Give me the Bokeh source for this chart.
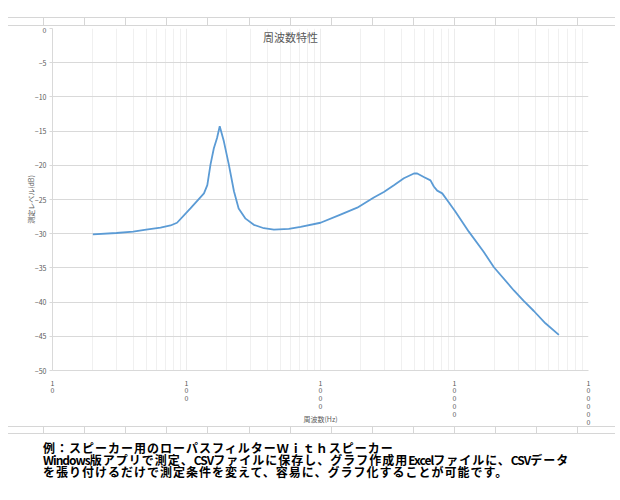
import re

from bokeh.embed import file_html
from bokeh.resources import INLINE
from bokeh.plotting import figure
from bokeh.layouts import column
from bokeh.models import Div, Label, FixedTicker

# 周波数特性 (measured)
freq_hz = [20, 30, 40, 50, 64, 76, 85, 107, 135, 143, 151, 160, 169, 177,
           190, 207, 226, 245, 276, 318, 378, 449, 580, 710, 1000, 1410,
           1880, 2500, 2970, 3530, 4190, 4980, 5270, 5900, 6620, 7010, 7430,
           8100, 8830, 10170, 12790, 16440, 19680, 27740, 32700, 39100,
           47700, 60100]
level_db = [-30.1, -29.9, -29.7, -29.4, -29.1, -28.8, -28.4, -26.3, -24.1,
            -22.9, -19.9, -17.5, -16.0, -14.3, -16.5, -19.9, -23.8, -26.3,
            -27.8, -28.7, -29.2, -29.4, -29.3, -29.0, -28.4, -27.2, -26.2,
            -24.7, -23.9, -22.9, -21.9, -21.2, -21.2, -21.7, -22.2, -23.1,
            -23.7, -24.1, -25.1, -26.8, -29.7, -32.6, -34.9, -38.3, -39.8,
            -41.3, -43.1, -44.8]

x_ticks = [10, 100, 1000, 10000, 100000]
x_tick_labels = {t: "\n".join(str(t)) for t in x_ticks}
y_ticks = [0, -5, -10, -15, -20, -25, -30, -35, -40, -45, -50]

title_text = "周波数特性"
x_label = "周波数(Hz)"
y_label = "測定レベル(dB)"
caption_lines = [
    "例：スピーカー用のローパスフィルターＷｉｔｈスピーカー",
    "Windows版アプリで測定、CSVファイルに保存し、グラフ作成用Excelファイルに、CSVデータ",
    "を張り付けるだけで測定条件を変えて、容易に、グラフ化することが可能です。",
]

JP = "Noto Sans CJK JP"
GRID = "#d9d9d9"
TXT = "#595959"
CELL = "#d6d6d6"


def cell_styles(y1, y2):
    # faint spreadsheet cell borders, painted as the div's own background
    solid = "linear-gradient(%s, %s)" % (CELL, CELL)
    stripes = ("repeating-linear-gradient(to right, transparent 0px, transparent 40.1px, "
               "%s 40.1px, %s 41.1px)" % (CELL, CELL))
    return {
        "background-image": ", ".join([solid, solid, stripes]),
        "background-size": "607px 1px, 607px 1px, 612px %dpx" % (y2 - y1),
        "background-position": "8px %dpx, 8px %dpx, 2.6px %dpx" % (y1, y2, y1),
        "background-repeat": "no-repeat",
    }


top = Div(text="", width=620, height=26, margin=0, styles=cell_styles(17, 25))

p = figure(width=608, height=400, x_axis_type="log",
           x_range=(10, 100000), y_range=(-50, 0),
           output_backend="svg", toolbar_location=None,
           min_border_left=52, min_border_right=20,
           min_border_top=2, min_border_bottom=56)
p.outline_line_color = None
p.background_fill_color = "white"
p.border_fill_color = "white"

p.xaxis.ticker = FixedTicker(ticks=x_ticks,
                             minor_ticks=[m * t for t in x_ticks[:-1] for m in range(2, 10)])
p.xaxis.major_label_overrides = x_tick_labels
p.yaxis.ticker = FixedTicker(ticks=y_ticks)

for ax in (p.xaxis, p.yaxis):
    ax.axis_line_color = GRID
    ax.major_tick_line_color = GRID
    ax.minor_tick_line_color = None
    ax.major_label_text_font = JP
    ax.major_label_text_font_size = "7px"
    ax.major_label_text_color = TXT
p.xaxis.major_tick_out = 0
p.xaxis.major_tick_in = 0
p.xaxis.major_label_standoff = 3
p.xaxis.major_label_text_line_height = 0.78
p.yaxis.major_tick_out = 3
p.yaxis.major_tick_in = 0
p.yaxis.major_label_standoff = 3

p.xaxis.axis_label = x_label
p.yaxis.axis_label = y_label
for ax in (p.xaxis, p.yaxis):
    ax.axis_label_text_font = JP
    ax.axis_label_text_font_size = "7px"
    ax.axis_label_text_font_style = "normal"
    ax.axis_label_text_color = TXT
p.xaxis.axis_label_standoff = -16
p.yaxis.axis_label_standoff = -4

p.ygrid.grid_line_color = GRID
p.xgrid.grid_line_color = "#ececec"
p.xgrid.minor_grid_line_color = "#f0f0f0"

p.line(freq_hz, level_db, line_color="#5b9bd5", line_width=1.8)

p.add_layout(Label(x=597, y=-1.2, text=title_text, text_font=JP,
                   text_font_size="11px", text_color=TXT,
                   text_align="center", text_baseline="middle"))


def narrow_latin(s):
    return re.sub(r"([A-Za-z]+)",
                  r'<span style="letter-spacing:-1px;">\1</span>', s)


caption_html = "<br>".join(narrow_latin(s) for s in caption_lines)
bottom = Div(
    text='<div style="padding-left:43px;padding-top:16px;font-family:\'%s\';font-weight:bold;'
    'font-size:12px;line-height:12px;letter-spacing:1px;color:#000;'
    'white-space:nowrap;">%s</div>' % (JP, caption_html),
    width=620, height=70, margin=0, styles=cell_styles(0, 7))

layout = column(top, p, bottom, spacing=0)
open("out.html", "w").write(file_html(layout, INLINE))
